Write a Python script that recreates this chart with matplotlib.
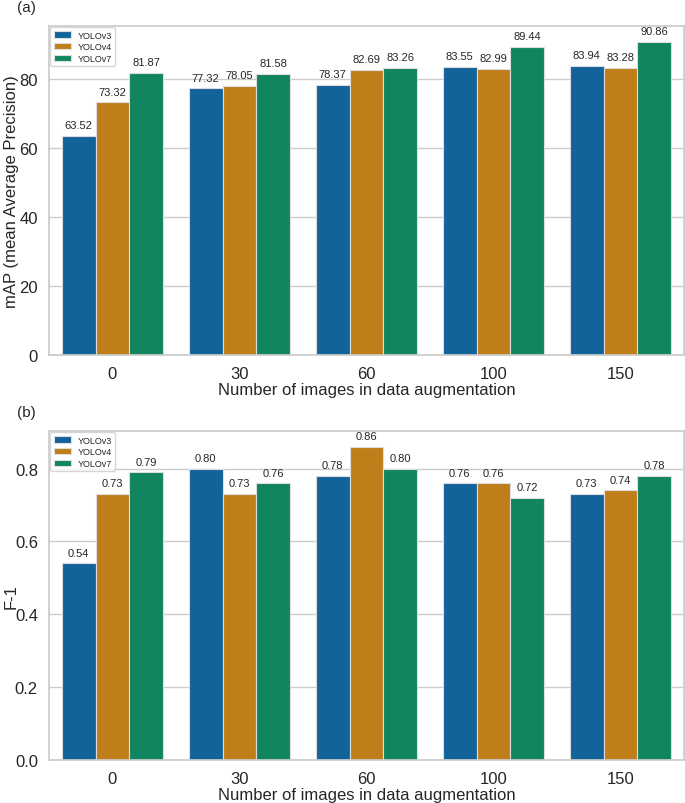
import matplotlib
matplotlib.use("Agg")
import matplotlib.pyplot as plt
import seaborn as sns
import pandas as pd

categories = ["0", "30", "60", "100", "150"]
models = ["YOLOv3", "YOLOv4", "YOLOv7"]
map_v3 = [63.52, 77.32, 78.37, 83.55, 83.94]
map_v4 = [73.32, 78.05, 82.69, 82.99, 83.28]
map_v7 = [81.87, 81.58, 83.26, 89.44, 90.86]
f1_v3 = [0.54, 0.80, 0.78, 0.76, 0.73]
f1_v4 = [0.73, 0.73, 0.86, 0.76, 0.74]
f1_v7 = [0.79, 0.76, 0.80, 0.72, 0.78]
colors = ["#12639A", "#C07E1A", "#118560"]

sns.set_theme(style="whitegrid")
plt.rcParams['font.family'] = ['Liberation Sans', 'DejaVu Sans']

def make_df(a, b, c):
    rows = []
    for m, vals in zip(models, [a, b, c]):
        for cat, v in zip(categories, vals):
            rows.append({"n": cat, "model": m, "val": v})
    return pd.DataFrame(rows)

W, H = 685, 804
fig = plt.figure(figsize=(6.85, 8.04), dpi=100)
L, R = 49, 684
ax1 = fig.add_axes([L/W, 1 - 356/H, (R - L)/W, (356 - 27)/H])
ax2 = fig.add_axes([L/W, 1 - 761/H, (R - L)/W, (761 - 432)/H])

for ax, data, ylabel, tag in [
    (ax1, make_df(map_v3, map_v4, map_v7), "mAP (mean Average Precision)", "(a)"),
    (ax2, make_df(f1_v3, f1_v4, f1_v7), "F-1", "(b)"),
]:
    sns.barplot(data=data, x="n", y="val", hue="model", order=categories,
                hue_order=models, palette=colors, saturation=1, ax=ax,
                edgecolor="#dddddd", linewidth=0.8)
    for cont in ax.containers:
        ax.bar_label(cont, labels=["{:.2f}".format(v) for v in cont.datavalues],
                     padding=4, fontsize=8, color="#262626")
    ax.set_ylabel(ylabel, fontsize=12, color="#262626")
    ax.yaxis.set_label_coords((19 - L) / (R - L), 0.5)
    ax.set_xlabel("Number of images in data augmentation", fontsize=12,
                  color="#262626", labelpad=1)
    ax.tick_params(axis="both", labelsize=12, colors="#262626", pad=2)
    ax.legend(loc="upper left", fontsize=6.5, frameon=True, labelspacing=0.3,
              borderpad=0.35, handlelength=1.9, handletextpad=0.8,
              borderaxespad=0.15)
    ax.text(-0.05, 1.035, tag, transform=ax.transAxes, fontsize=11,
            ha="left", va="bottom", color="#262626")
    for s in ax.spines.values():
        s.set_color("#cccccc")

ax1.set_yticks([0, 20, 40, 60, 80])
ax2.set_yticks([0.0, 0.2, 0.4, 0.6, 0.8])
ax1.set_ylim(0, max(map_v7) * 1.05)
ax2.set_ylim(0, max(f1_v4) * 1.05)

fig.savefig("out.png", dpi=100)
